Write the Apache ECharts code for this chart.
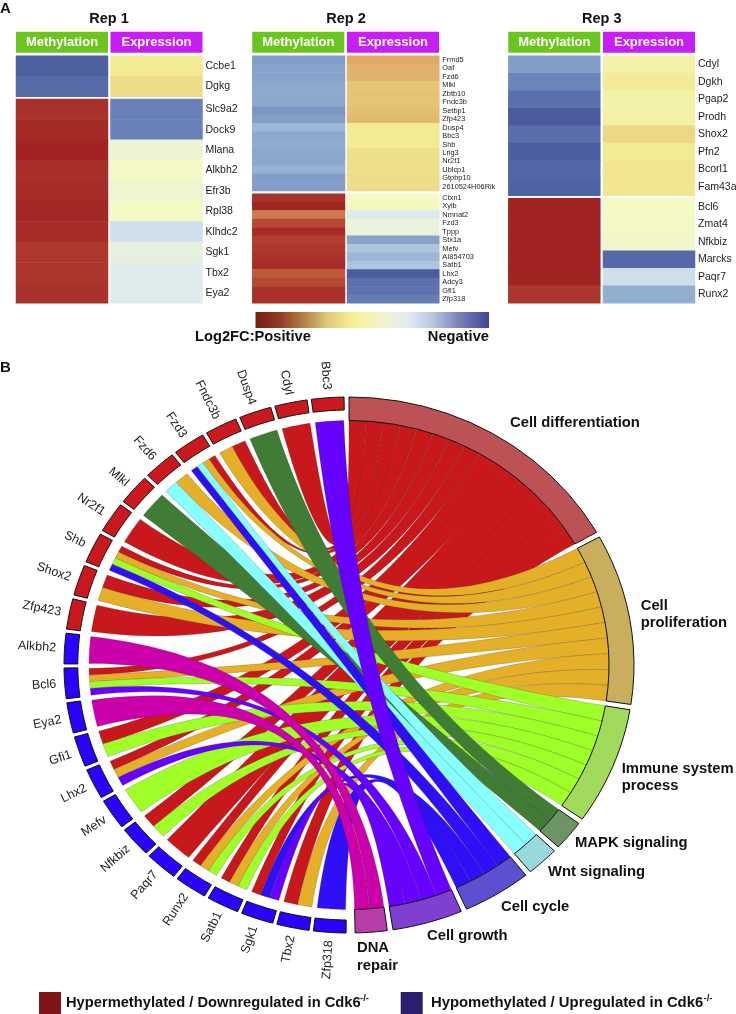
<!DOCTYPE html>
<html>
<head>
<meta charset="utf-8">
<script src="https://cdn.jsdelivr.net/npm/echarts@6/dist/echarts.min.js"></script>
<style>
  html, body { margin: 0; padding: 0; background: #fff; }
  #main { width: 736px; height: 1014px; }
</style>
</head>
<body>
<div id="main"></div>
<script>
// heatmap values: +1 is the "Positive" end of the colour bar, -1 the "Negative" end
const rep1TopGenes = ["Ccbe1", "Dgkg"];
const rep1TopMeth = [-0.92, -0.85];
const rep1TopExpr = [0.2, 0.27];
const rep1BottomGenes = ["Slc9a2", "Dock9", "Mlana", "Alkbh2", "Efr3b", "Rpl38", "Klhdc2", "Sgk1", "Tbx2", "Eya2"];
const rep1BottomMeth = [0.95, 0.98, 1, 0.96, 0.97, 0.99, 0.97, 0.93, 0.94, 0.95];
const rep1BottomExpr = [-0.74, -0.74, -0.07, 0, -0.05, 0, -0.27, -0.12, -0.18, -0.19];

const rep2TopGenes = ["Frmd5", "Oaf", "Fzd6", "Mlkl", "Zbtb10", "Fndc3b", "Setbp1", "Zfp423", "Dusp4", "Bbc3", "Shb", "Lrig3", "Nr2f1", "Ublcp1", "Gtpbp10", "2610524H06Rik"];
const rep2TopMeth = [-0.62, -0.6, -0.6, -0.57, -0.57, -0.58, -0.66, -0.62, -0.5, -0.57, -0.56, -0.58, -0.58, -0.52, -0.62, -0.62];
const rep2TopExpr = [0.58, 0.52, 0.52, 0.4, 0.42, 0.4, 0.44, 0.48, 0.2, 0.2, 0.2, 0.26, 0.26, 0.26, 0.27, 0.27];
const rep2BottomGenes = ["Ctxn1", "Xylb", "Nmnat2", "Fzd3", "Tppp", "Stx1a", "Mefv", "AI854703", "Satb1", "Lhx2", "Adcy3", "Gfi1", "Zfp318"];
const rep2BottomMeth = [0.96, 1, 0.72, 0.88, 0.97, 0.91, 0.93, 0.95, 0.97, 0.82, 0.88, 0.95, 0.96];
const rep2BottomExpr = [0, 0.03, -0.2, -0.1, -0.1, -0.6, -0.42, -0.5, -0.42, -0.95, -0.82, -0.8, -0.76];

const rep3TopGenes = ["Cdyl", "Dgkh", "Pgap2", "Prodh", "Shox2", "Pfn2", "Bcorl1", "Fam43a"];
const rep3TopMeth = [-0.62, -0.72, -0.82, -0.95, -0.84, -0.93, -0.88, -0.9];
const rep3TopExpr = [0.12, 0.18, 0.11, 0.12, 0.3, 0.2, 0.23, 0.22];
const rep3BottomGenes = ["Bcl6", "Zmat4", "Nfkbiz", "Marcks", "Paqr7", "Runx2"];
const rep3BottomMeth = [1, 1, 1, 1, 1, 0.94];
const rep3BottomExpr = [0, -0.01, -0.03, -0.87, -0.27, -0.55];

// chord diagram
const termNames = ["Cell differentiation", "Cell proliferation", "Immune system process", "MAPK signaling", "Wnt signaling", "Cell cycle", "Cell growth", "DNA repair"];
const geneNames = ["Bbc3", "Cdyl", "Dusp4", "Fndc3b", "Fzd3", "Fzd6", "Mlkl", "Nr2f1", "Shb", "Shox2", "Zfp423", "Alkbh2", "Bcl6", "Eya2", "Gfi1", "Lhx2", "Mefv", "Nfkbiz", "Paqr7", "Runx2", "Satb1", "Sgk1", "Tbx2", "Zfp318"];
const hyperGeneCount = 11; // first genes in the list are hypermethylated
// which terms (index in termNames) each gene belongs to
const geneTerms = [[6], [0], [3], [0, 1], [0, 1, 4, 5], [1, 4], [3], [0], [0, 1, 2, 5], [0, 1], [0], [7], [0, 1, 2, 6], [7], [0, 2], [0, 1, 6], [2], [0, 2], [0], [0, 1, 2], [0, 1, 2], [0, 5, 6], [0, 1], [5]];

const ribbonColors = ["#c8181c", "#e5b027", "#a0ff26", "#407c34", "#88ffff", "#2f10f6", "#6600ff", "#cc00aa"];
const bandColors = ["#bc5255", "#c9ae5e", "#a2db5c", "#6c9465", "#97d9dc", "#5c4fd0", "#7f3fd1", "#b93da8"];

// colour scale, evenly spaced from -1 to 1
const heatColors = ["#455399", "#5d73ae", "#86a3cb", "#b1c9e0", "#ddeaef", "#f5f9c4", "#f2ea95", "#e5c676", "#dea565", "#c2613f", "#a12423"];

const R_OUT = 268, R_GENE_IN = 255, R_RIBBON = 244.5;
const GENE_STEP = 7.47, GENE_WIDTH = 6.6, TERM_GAP = 1.15;
// degrees one gene takes in each term sector
const TERM_UNIT = [3.77, 3.7, 3.64, 3.25, 3.3, 3.5, 3.58, 3.25];
// keeps long ribbons from pinching where they pass the centre, 0 would be pure centre control
const RIBBON_BODY = 0.22;

const rad = d => d * Math.PI / 180;
const polar = (r, deg) => [r * Math.sin(rad(deg)), r * Math.cos(rad(deg))];

// term sectors go clockwise from the top, width follows the number of genes
let termCount = new Array(termNames.length).fill(0);
geneTerms.forEach(list => list.forEach(t => termCount[t]++));
let termStart = [];
let acc = 0;
termCount.forEach((c, i) => {
  termStart[i] = acc;
  acc += c * TERM_UNIT[i] + TERM_GAP;
});

// ribbon list, drawn term by term
let ribbons = [];
let termUsed = new Array(termNames.length).fill(0);
let perGene = [];
geneTerms.forEach((list, g) => {
  let geneEnd = 359 - g * GENE_STEP;
  let w = (GENE_WIDTH - 0.3) / list.length;
  list.forEach((t, k) => {
    let a1 = geneEnd - 0.15 - k * w;
    let b0 = termStart[t] + termUsed[t] * TERM_UNIT[t];
    termUsed[t]++;
    perGene.push([t, a1 - w, a1, b0, b0 + TERM_UNIT[t]]);
  });
});
termNames.forEach((n, t) => perGene.filter(r => r[0] === t).forEach(r => ribbons.push(r)));

function arcPoints(r, a0, a1) {
  let pts = [];
  for (let i = 0; i <= 12; i++) pts.push(polar(r, a0 + (a1 - a0) * i / 12));
  return pts;
}
function bezierPoints(p0, p1, c) {
  let pts = [];
  for (let i = 1; i < 40; i++) {
    let s = i / 40;
    let m = 2 * s * (1 - s);
    pts.push([(1 - s) * (1 - s) * p0[0] + m * c[0] + s * s * p1[0], (1 - s) * (1 - s) * p0[1] + m * c[1] + s * s * p1[1]]);
  }
  return pts;
}
function bandPoints(api, r0, r1, a0, a1) {
  return arcPoints(r1, a0, a1).concat(arcPoints(r0, a1, a0)).map(p => api.coord(p));
}

function renderRibbon(params, api) {
  let r = ribbons[params.dataIndex];
  let geneArc = arcPoints(R_RIBBON, r[1], r[2]);
  let termArc = arcPoints(R_RIBBON, r[3], r[4]);
  let g0 = geneArc[0], g1 = geneArc[geneArc.length - 1];
  let t0 = termArc[0], t1 = termArc[termArc.length - 1];
  // only ribbons that cross nearly straight over keep some body in the middle
  let sep = Math.abs((r[1] + r[2]) / 2 - (r[3] + r[4]) / 2);
  if (sep > 180) sep = 360 - sep;
  let body = RIBBON_BODY * Math.max(0, Math.min(1, (sep - 110) / 40));
  let c = [
    body / 2 * (g1[0] + t0[0] - t1[0] - g0[0]),
    body / 2 * (g1[1] + t0[1] - t1[1] - g0[1])
  ];
  let pts = geneArc
    .concat(bezierPoints(g1, t0, c))
    .concat(termArc)
    .concat(bezierPoints(t1, g0, [-c[0], -c[1]]));
  return {
    type: "polygon",
    shape: { points: pts.map(p => api.coord(p)) },
    style: { fill: ribbonColors[r[0]], stroke: "rgba(50,50,50,0.45)", lineWidth: 0.5 }
  };
}

function renderGene(params, api) {
  let g = params.dataIndex;
  let end = 359 - g * GENE_STEP;
  let mid = end - GENE_WIDTH / 2;
  let at = api.coord(polar(R_OUT + 8, mid));
  return {
    type: "group",
    children: [
      {
        type: "polygon",
        shape: { points: bandPoints(api, R_GENE_IN, R_OUT, end - GENE_WIDTH, end) },
        style: { fill: g < hyperGeneCount ? "#c9181e" : "#2a00ff", stroke: "#111", lineWidth: 1 }
      },
      {
        type: "text",
        x: at[0],
        y: at[1],
        rotation: Math.atan2(-Math.cos(rad(mid)), -Math.sin(rad(mid))),
        style: { text: geneNames[g], fill: "#222", font: "12.5px 'Liberation Sans'", align: "right", verticalAlign: "middle" }
      }
    ]
  };
}

function renderTerm(params, api) {
  let t = params.dataIndex;
  let a0 = termStart[t];
  return {
    type: "polygon",
    shape: { points: bandPoints(api, R_RIBBON, R_OUT, a0, a0 + termCount[t] * TERM_UNIT[t]) },
    style: { fill: bandColors[t], stroke: "#111", lineWidth: 1 }
  };
}

// 12 little heatmap blocks
const blocks = [
  { left: 16, width: 92, top: 55.7, height: 41, genes: rep1TopGenes, values: rep1TopMeth },
  { left: 110.5, width: 92, top: 55.7, height: 41, genes: rep1TopGenes, values: rep1TopExpr, font: 10.5, labels: true },
  { left: 16, width: 92, top: 99, height: 204.3, genes: rep1BottomGenes, values: rep1BottomMeth },
  { left: 110.5, width: 92, top: 99, height: 204.3, genes: rep1BottomGenes, values: rep1BottomExpr, font: 10.5, labels: true },
  { left: 252.3, width: 92.7, top: 55.7, height: 135.3, genes: rep2TopGenes, values: rep2TopMeth },
  { left: 347, width: 92.3, top: 55.7, height: 135.3, genes: rep2TopGenes, values: rep2TopExpr, font: 7.4, labels: true },
  { left: 252.3, width: 92.7, top: 193.7, height: 109.6, genes: rep2BottomGenes, values: rep2BottomMeth },
  { left: 347, width: 92.3, top: 193.7, height: 109.6, genes: rep2BottomGenes, values: rep2BottomExpr, font: 7.4, labels: true },
  { left: 508.3, width: 92, top: 55.7, height: 140, genes: rep3TopGenes, values: rep3TopMeth },
  { left: 603, width: 92, top: 55.7, height: 140, genes: rep3TopGenes, values: rep3TopExpr, font: 10.5, labels: true },
  { left: 508.3, width: 92, top: 198.3, height: 105, genes: rep3BottomGenes, values: rep3BottomMeth },
  { left: 603, width: 92, top: 198.3, height: 105, genes: rep3BottomGenes, values: rep3BottomExpr, font: 10.5, labels: true }
];

let grid = [], xAxis = [], yAxis = [], series = [];
blocks.forEach((b, i) => {
  // labels near the page edge must not push the grid in
  grid.push({ left: b.left, top: b.top, width: b.width, height: b.height, outerBoundsMode: "none" });
  xAxis.push({ type: "category", gridIndex: i, show: false, data: ["v"] });
  yAxis.push({
    type: "category",
    gridIndex: i,
    inverse: true,
    position: "right",
    data: b.genes,
    show: !!b.labels,
    axisLine: { show: false },
    axisTick: { show: false },
    splitLine: { show: false },
    axisLabel: { interval: 0, margin: 3, color: "#222", fontSize: b.font, fontFamily: "Liberation Sans", hideOverlap: false }
  });
  series.push({
    type: "heatmap",
    xAxisIndex: i,
    yAxisIndex: i,
    data: b.values.map((v, r) => [0, r, v]),
    itemStyle: { borderWidth: 0 },
    animation: false
  });
});

// the chord sits on a stretched value grid, so circle units come out as the ellipse of the picture
grid.push({ left: 64, top: 397, width: 570, height: 536, outerBoundsMode: "none" });
xAxis.push({ type: "value", gridIndex: blocks.length, min: -R_OUT, max: R_OUT, show: false });
yAxis.push({ type: "value", gridIndex: blocks.length, min: -R_OUT, max: R_OUT, show: false });
const chordAxis = { xAxisIndex: blocks.length, yAxisIndex: blocks.length, coordinateSystem: "cartesian2d", clip: false, animation: false };
series.push(Object.assign({ type: "custom", renderItem: renderRibbon, data: ribbons.map((r, i) => [i]), z: 3, encode: { x: 0 } }, chordAxis));
series.push(Object.assign({ type: "custom", renderItem: renderTerm, data: termNames.map((n, i) => [i]), z: 4, encode: { x: 0 } }, chordAxis));
series.push(Object.assign({ type: "custom", renderItem: renderGene, data: geneNames.map((n, i) => [i]), z: 4, encode: { x: 0 } }, chordAxis));

function label(text, x, y, size, opt) {
  return {
    type: "text",
    x: x,
    y: y,
    z: 10,
    style: Object.assign({ text: text, fill: "#111", font: "bold " + size + "px 'Liberation Sans'", align: "left", verticalAlign: "middle" }, opt || {})
  };
}
function box(x, y, w, h, fill) {
  return { type: "rect", x: x, y: y, z: 9, shape: { width: w, height: h }, style: { fill: fill } };
}

const headers = [];
[[16, 110.5, 109, "Rep 1"], [252.3, 347, 346, "Rep 2"], [508.3, 603, 601.7, "Rep 3"]].forEach(h => {
  headers.push(label(h[3], h[2], 19, 14.5, { align: "center" }));
  headers.push(box(h[0], 31.7, 92, 21, "#6cc41f"));
  headers.push(box(h[1], 31.7, 92, 21, "#c81ef5"));
  headers.push(label("Methylation", h[0] + 46, 42, 13, { align: "center", fill: "#fff" }));
  headers.push(label("Expression", h[1] + 46, 42, 13, { align: "center", fill: "#fff" }));
});

const option = {
  backgroundColor: "#fff",
  animation: false,
  grid: grid,
  xAxis: xAxis,
  yAxis: yAxis,
  visualMap: {
    show: false,
    type: "continuous",
    min: -1,
    max: 1,
    seriesIndex: blocks.map((b, i) => i),
    inRange: { color: heatColors }
  },
  series: series,
  graphic: {
    elements: headers.concat([
      label("A", 0, 9, 15),
      label("B", 0, 368, 15),
      {
        type: "rect", x: 255.5, y: 312, z: 9,
        shape: { width: 233.5, height: 16 },
        style: {
          fill: new echarts.graphic.LinearGradient(0, 0, 1, 0, [
            { offset: 0, color: "#7a1a16" },
            { offset: 0.1, color: "#8f3a24" },
            { offset: 0.2, color: "#b07a45" },
            { offset: 0.3, color: "#dcc476" },
            { offset: 0.4, color: "#f3ec90" },
            { offset: 0.47, color: "#f5f5a8" },
            { offset: 0.56, color: "#f0f3d4" },
            { offset: 0.66, color: "#e4eaf2" },
            { offset: 0.76, color: "#b8c4de" },
            { offset: 0.87, color: "#7a85b8" },
            { offset: 1, color: "#3f4490" }
          ])
        }
      },
      label("Log2FC:Positive", 195, 337, 14.7),
      label("Negative", 489, 337, 14.7, { align: "right" }),
      label("Cell differentiation", 510, 423, 14.8),
      label("Cell", 640.7, 606, 14.8),
      label("proliferation", 640.7, 623, 14.8),
      label("Immune system", 621.7, 769, 14.8),
      label("process", 621.7, 786, 14.8),
      label("MAPK signaling", 575, 843, 14.8),
      label("Wnt signaling", 548, 872, 14.8),
      label("Cell cycle", 501, 907, 14.8),
      label("Cell growth", 427, 936, 14.8),
      label("DNA", 357, 948, 14.8),
      label("repair", 357, 966, 14.8),
      box(39, 992, 22, 22, "#7f1419"),
      label("Hypermethylated / Downregulated in Cdk6", 66, 1003, 14.7),
      label("-/-", 360, 998, 9.5),
      box(400.7, 992, 22, 22, "#2d1f6e"),
      label("Hypomethylated / Upregulated in Cdk6", 431, 1003, 14.85),
      label("-/-", 703.5, 998, 9.5)
    ])
  }
};

const chart = echarts.init(document.getElementById("main"), null, { renderer: "canvas" });
chart.setOption(option);
</script>
</body>
</html>
